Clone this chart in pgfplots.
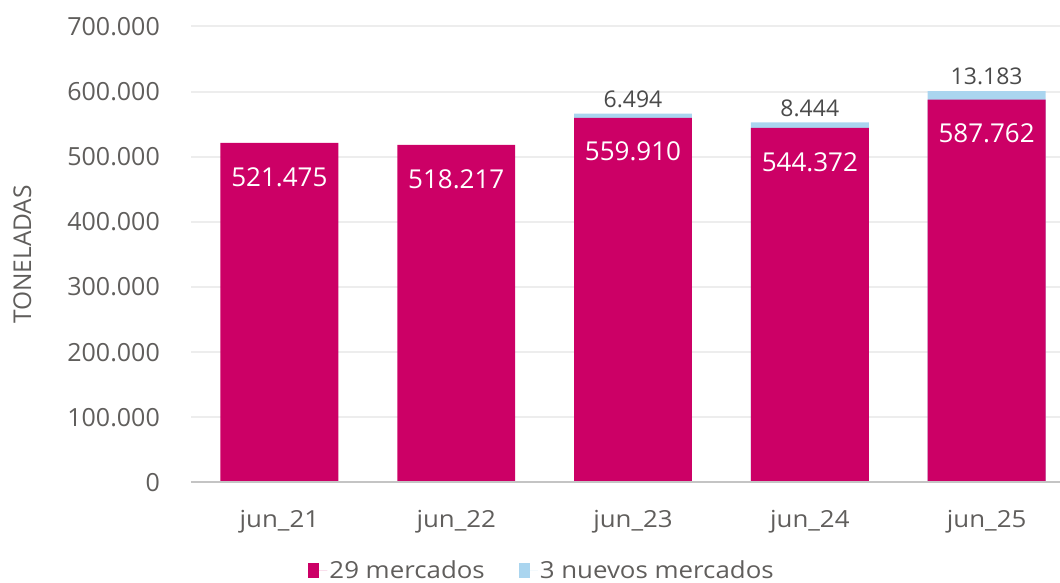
\documentclass[border=0pt]{standalone}
\usepackage{fontspec}
\setmainfont{Open Sans}
\newfontfamily\stretchfont{Open Sans}[FakeStretch=1.1]
\usepackage{pgfplots}
\pgfplotsset{compat=1.18}
\definecolor{pinkbar}{HTML}{CC0066}
\definecolor{bluebar}{HTML}{AAD5EF}
\definecolor{gridc}{HTML}{EDEDED}
\definecolor{axisc}{HTML}{C4C4C4}
\definecolor{textc}{HTML}{605E5C}
\definecolor{labc}{HTML}{4A4A4A}
\begin{document}
\begin{tikzpicture}
\useasboundingbox (-191pt,-100.5pt) rectangle (869pt,482.5pt);
\begin{axis}[
  at={(0pt,0pt)}, anchor=south west,
  scale only axis, width=869pt, height=456pt,
  xmin=-0.5, xmax=4.415, ymin=0, ymax=700000,
  xtick={0,1,2,3,4},
  xticklabels={jun\_21,jun\_22,jun\_23,jun\_24,jun\_25},
  ytick={0,100000,200000,300000,400000,500000,600000,700000},
  major tick length=0pt,
  axis line style={draw=none},
  ymajorgrids, grid style={line width=2pt, gridc},
  /pgf/number format/.cd, fixed, precision=0, 1000 sep={.}, assume math mode=true,
  /pgfplots/.cd,
  yticklabel style={font=\fontsize{25}{25}\selectfont, text=textc, inner sep=0pt, anchor=east, xshift=-31pt},
  xticklabel style={font=\stretchfont\fontsize{23.5}{23.5}\selectfont, text=textc, inner sep=0pt, anchor=north, yshift=-28pt},
  scaled y ticks=false,
  ylabel={TONELADAS},
  ylabel style={at={(axis description cs:-0.194,0.5)}, anchor=center, font=\fontsize{24.5}{24.5}\selectfont, text=textc},
  ybar, bar width=118/177,
  legend columns=2,
  legend style={at={(axis description cs:0.404,-0.192)}, anchor=center, draw=none, fill=none,
    font=\stretchfont\fontsize{23.5}{23.5}\selectfont, text=textc,
    inner sep=0pt,
    /tikz/every odd column/.append style={column sep=0pt},
    /tikz/every even column/.append style={column sep=32pt}},
  legend image code/.code={\fill[#1] (0pt,-7.5pt) rectangle (11pt,7.5pt); \path (0pt,0pt) -- (19pt,0pt);},
]
% blue drawn to the total height, behind the pink
\addplot[fill=bluebar, draw=none, bar shift=0pt, forget plot,
  point meta=explicit,
  nodes near coords, nodes near coords align={vertical},
  every node near coord/.append style={font=\fontsize{23}{23}\selectfont, text=labc, anchor=center, yshift=14.5pt},
  /pgf/number format/.cd, fixed, precision=0, 1000 sep={.}, assume math mode=true]
  coordinates {(2,566404) [6494] (3,552816) [8444] (4,600945) [13183]};
\addplot[fill=pinkbar, draw=none, bar shift=0pt,
  point meta=explicit,
  nodes near coords, nodes near coords align={vertical},
  every node near coord/.append style={font=\fontsize{26}{26}\selectfont, text=white, anchor=center, yshift=-34pt},
  /pgf/number format/.cd, fixed, precision=0, 1000 sep={.}, assume math mode=true]
  coordinates {(0,521475) [521475] (1,518217) [518217] (2,559910) [559910] (3,544372) [544372] (4,587762) [587762]};
\addlegendentry{29 mercados}
\addlegendimage{fill=bluebar, draw=none}
\addlegendentry{3 nuevos mercados}
\draw[line width=3pt, axisc] (rel axis cs:0,0) -- (rel axis cs:1,0);
\end{axis}
\end{tikzpicture}
\end{document}
